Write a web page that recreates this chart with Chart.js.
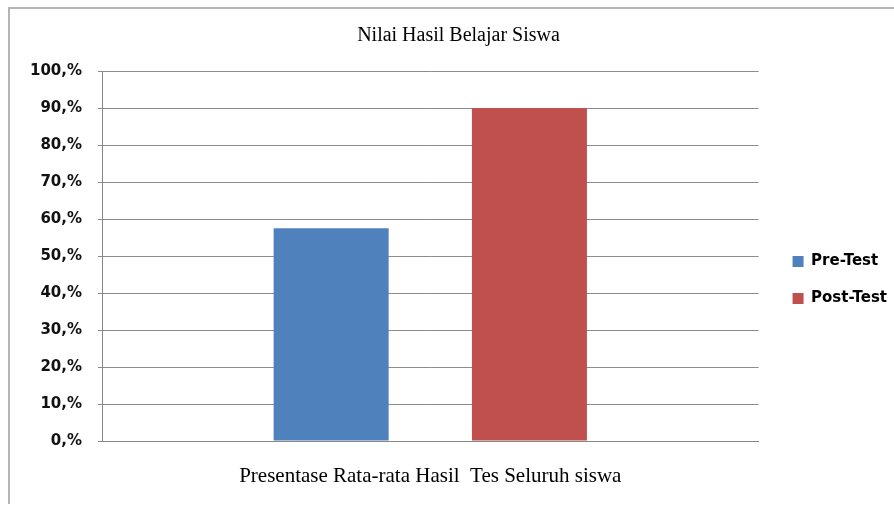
<!DOCTYPE html>
<html>
<head>
<meta charset="utf-8">
<script src="https://cdn.jsdelivr.net/npm/chart.js@4.4.1/dist/chart.umd.min.js"></script>
<style>
html,body{margin:0;padding:0;background:#fff;}
#wrap{width:894px;height:506px;position:relative;}
</style>
</head>
<body>
<div id="wrap"><canvas id="c" width="894" height="506"></canvas></div>
<script>
const categories = ['Presentase Rata-rata Hasil  Tes Seluruh siswa'];
const seriesNames = ['Pre-Test', 'Post-Test'];
const preTest = [57.5];
const postTest = [90];
const yTicks = [0, 10, 20, 30, 40, 50, 60, 70, 80, 90, 100];

const framePlugin = {
  id: 'frame',
  afterDraw(chart) {
    const ctx = chart.ctx;
    ctx.save();
    ctx.strokeStyle = '#b4b4b4';
    ctx.lineWidth = 2;
    ctx.beginPath();
    ctx.moveTo(9, 504);
    ctx.lineTo(9, 8);
    ctx.lineTo(894, 8);
    ctx.stroke();
    ctx.restore();
  }
};

new Chart(document.getElementById('c'), {
  type: 'bar',
  data: {
    labels: categories,
    datasets: [
      { label: seriesNames[0], data: preTest, backgroundColor: '#4F81BD', barPercentage: 0.58, categoryPercentage: 0.604 },
      { label: seriesNames[1], data: postTest, backgroundColor: '#C0504D', barPercentage: 0.58, categoryPercentage: 0.604 }
    ]
  },
  options: {
    responsive: false,
    animation: false,
    layout: { padding: { left: 20, right: -3, top: 0, bottom: 8 } },
    plugins: {
      title: {
        display: true,
        text: 'Nilai Hasil Belajar Siswa',
        color: '#000',
        font: { family: 'Liberation Serif', size: 20, weight: 'normal' },
        padding: { top: 24, bottom: 23 }
      },
      legend: {
        position: 'right',
        title: {
          display: true,
          text: ' ',
          font: { size: 10 },
          padding: { top: 50, bottom: 0 }
        },
        labels: {
          boxWidth: 11,
          boxHeight: 11,
          padding: 22,
          color: '#000',
          font: { family: 'DejaVu Sans', size: 15, weight: 'bold' }
        }
      },
      tooltip: { enabled: false }
    },
    scales: {
      x: {
        afterFit(scale) { scale.height = 57; },
        grid: { display: false, drawTicks: false },
        border: { display: true, color: '#888', width: 1 },
        ticks: {
          color: '#000',
          padding: 23,
          font: { family: 'Liberation Serif', size: 21 }
        }
      },
      y: {
        min: 0,
        max: 100,
        afterBuildTicks(scale) { scale.ticks = yTicks.map(v => ({ value: v })); },
        afterFit(scale) { scale.width = 82; },
        grid: { color: '#8c8c8c', tickLength: 4, drawTicks: true },
        border: { display: true, color: '#888', width: 1 },
        ticks: {
          color: '#111',
          padding: 16,
          font: { family: 'DejaVu Sans', size: 15, weight: 'bold' },
          callback: v => v + ',%'
        }
      },
      spacer: {
        position: 'right',
        display: true,
        grid: { display: false, drawTicks: false },
        border: { display: false },
        ticks: { display: false },
        afterFit(scale) { scale.width = 12; }
      }
    }
  },
  plugins: [framePlugin]
});
</script>
</body>
</html>
